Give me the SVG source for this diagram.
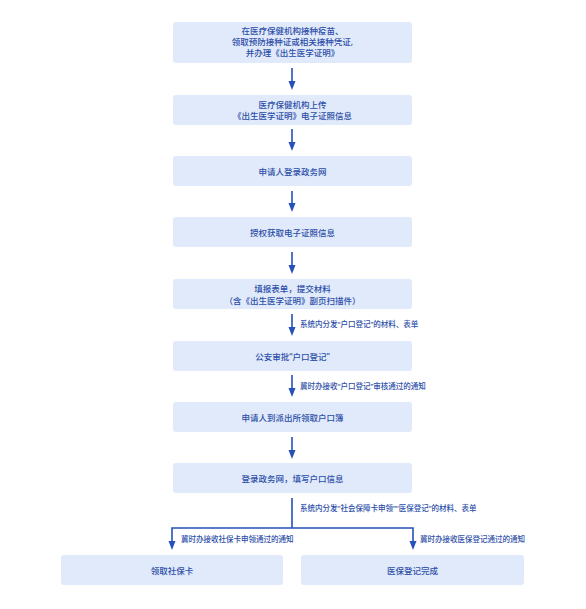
<svg xmlns="http://www.w3.org/2000/svg" width="586" height="609" viewBox="0 0 586 609">
<style>
.box{fill:#e1eafa;}
.t{font-family:"Noto Sans","Noto Sans CJK SC",sans-serif;font-size:8.5px;font-weight:500;fill:#2c4ea8;text-anchor:middle;dominant-baseline:central;}
.l{font-family:"Noto Sans","Noto Sans CJK SC",sans-serif;font-size:7.5px;font-weight:500;fill:#2c4ea8;dominant-baseline:central;}
.c{stroke:#2651b8;stroke-width:1.6;fill:none;}
</style>
<rect width="586" height="609" fill="#ffffff"/>
<g id="connectors">
<path class="c" d="M292,68 V82" /><path d="M288.5,81 L295.5,81 L292,90 Z" fill="#2651b8"/>
<path class="c" d="M292,129 V143" /><path d="M288.5,142 L295.5,142 L292,151 Z" fill="#2651b8"/>
<path class="c" d="M292,191 V204" /><path d="M288.5,203 L295.5,203 L292,212 Z" fill="#2651b8"/>
<path class="c" d="M292,252 V266" /><path d="M288.5,265 L295.5,265 L292,274 Z" fill="#2651b8"/>
<path class="c" d="M292,314 V328" /><path d="M288.5,327 L295.5,327 L292,336 Z" fill="#2651b8"/>
<path class="c" d="M292,375 V389" /><path d="M288.5,388 L295.5,388 L292,397 Z" fill="#2651b8"/>
<path class="c" d="M292,437 V451" /><path d="M288.5,450 L295.5,450 L292,459 Z" fill="#2651b8"/>
<path class="c" d="M292,498 V528 M172,528 H413 M172,527.2 V542 M413,527.2 V542" />
<path d="M168.5,541 L175.5,541 L172,550 Z" fill="#2651b8"/>
<path d="M409.5,541 L416.5,541 L413,550 Z" fill="#2651b8"/>
<text class="l" x="300" y="324">系统内分发“户口登记”的材料、表单</text>
<text class="l" x="300" y="386">冀时办接收“户口登记”审核通过的通知</text>
<text class="l" x="300" y="508">系统内分发“社会保障卡申领”“医保登记”的材料、表单</text>
<text class="l" x="181" y="539">冀时办接收社保卡申领通过的通知</text>
<text class="l" x="420" y="539">冀时办接收医保登记通过的通知</text>
</g>
<g id="n1"><rect class="box" x="173" y="22" width="239" height="41" rx="3"/>
<text class="t" x="292.5" y="30.5">在医疗保健机构接种疫苗、</text>
<text class="t" x="292.5" y="41.5">领取预防接种证或相关接种凭证,</text>
<text class="t" x="292.5" y="52.5">并办理《出生医学证明》</text></g>
<g id="n2"><rect class="box" x="173" y="95" width="239" height="30" rx="3"/>
<text class="t" x="292.5" y="104">医疗保健机构上传</text>
<text class="t" x="292.5" y="115.5">《出生医学证明》电子证照信息</text></g>
<g id="n3"><rect class="box" x="173" y="156" width="239" height="30" rx="3"/>
<text class="t" x="292.5" y="171">申请人登录政务网</text></g>
<g id="n4"><rect class="box" x="173" y="217" width="239" height="30" rx="3"/>
<text class="t" x="292.5" y="232">授权获取电子证照信息</text></g>
<g id="n5"><rect class="box" x="173" y="279" width="239" height="30" rx="3"/>
<text class="t" x="292.5" y="288">填报表单，提交材料</text>
<text class="t" x="292.5" y="300">（含《出生医学证明》副页扫描件）</text></g>
<g id="n6"><rect class="box" x="173" y="341" width="239" height="30" rx="3"/>
<text class="t" x="292.5" y="356">公安审批“户口登记”</text></g>
<g id="n7"><rect class="box" x="173" y="402" width="239" height="30" rx="3"/>
<text class="t" x="292.5" y="417">申请人到派出所领取户口簿</text></g>
<g id="n8"><rect class="box" x="173" y="463" width="239" height="30" rx="3"/>
<text class="t" x="292.5" y="478">登录政务网，填写户口信息</text></g>
<g id="n9"><rect class="box" x="61" y="555" width="222" height="30" rx="3"/>
<text class="t" x="172" y="570">领取社保卡</text></g>
<g id="n10"><rect class="box" x="301" y="555" width="223" height="30" rx="3"/>
<text class="t" x="412.5" y="570">医保登记完成</text></g>
</svg>
